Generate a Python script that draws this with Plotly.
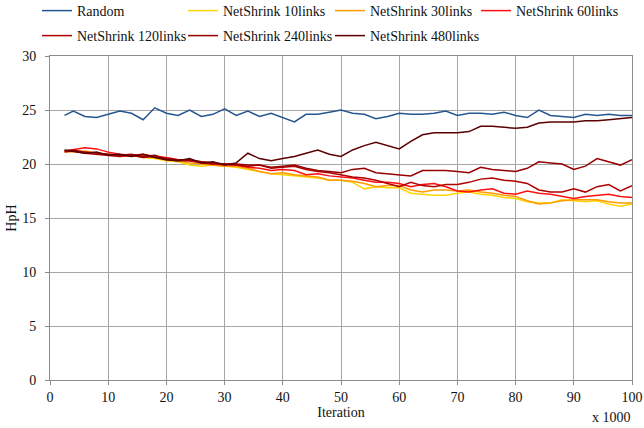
import plotly.graph_objects as go

# Iteration (x 1000)
iteration_k = [2.5] + list(range(4, 101, 2))

random_hph = [24.5, 24.9, 24.4, 24.3, 24.6, 24.9, 24.7, 24.1, 25.2, 24.7,
              24.5, 25.0, 24.4, 24.6, 25.1, 24.5, 24.9, 24.4, 24.7, 24.3,
              23.9, 24.6, 24.6, 24.8, 25.0, 24.7, 24.6, 24.2, 24.4, 24.7,
              24.6, 24.6, 24.7, 24.9, 24.5, 24.7, 24.7, 24.6, 24.8, 24.5,
              24.3, 25.0, 24.5, 24.4, 24.3, 24.6, 24.5, 24.6, 24.5, 24.5]

ns10_hph = [21.1, 21.2, 21.1, 21.0, 20.9, 20.7, 20.8, 20.6, 20.5, 20.3,
            20.2, 19.9, 19.8, 19.9, 19.8, 19.7, 19.5, 19.3, 19.1, 19.0,
            18.9, 18.8, 18.7, 18.5, 18.5, 18.3, 17.7, 17.9, 17.8, 17.8,
            17.3, 17.2, 17.1, 17.1, 17.3, 17.4, 17.2, 17.1, 16.9, 16.8,
            16.5, 16.4, 16.4, 16.7, 16.6, 16.5, 16.6, 16.3, 16.1, 16.3]

ns30_hph = [21.2, 21.1, 21.2, 21.0, 20.9, 20.8, 20.7, 20.8, 20.6, 20.4,
            20.3, 20.1, 20.0, 19.9, 19.8, 19.8, 19.6, 19.3, 19.1, 19.2,
            19.0, 18.9, 18.8, 18.5, 18.5, 18.4, 18.2, 17.9, 18.0, 18.0,
            17.6, 17.4, 17.6, 17.6, 17.5, 17.6, 17.4, 17.3, 17.1, 17.0,
            16.6, 16.3, 16.4, 16.6, 16.7, 16.7, 16.7, 16.5, 16.4, 16.4]

ns60_hph = [21.2, 21.3, 21.5, 21.4, 21.1, 20.9, 20.8, 20.9, 20.7, 20.6,
            20.4, 20.3, 20.2, 20.0, 19.9, 19.9, 19.7, 19.6, 19.4, 19.5,
            19.4, 19.0, 19.1, 18.9, 18.8, 18.7, 18.5, 18.3, 18.3, 18.2,
            17.9, 18.1, 18.2, 17.9, 17.5, 17.4, 17.6, 17.7, 17.3, 17.2,
            17.5, 17.3, 17.2, 17.0, 16.8, 17.0, 17.1, 17.2, 17.0, 16.9]

ns120_hph = [21.1, 21.2, 21.0, 20.9, 20.8, 20.7, 20.8, 20.6, 20.7, 20.4,
             20.3, 20.3, 20.1, 20.0, 20.0, 19.9, 19.8, 19.9, 19.6, 19.7,
             19.8, 19.5, 19.3, 19.2, 19.0, 18.8, 18.7, 18.5, 18.2, 17.9,
             18.3, 18.0, 17.9, 18.1, 18.1, 18.3, 18.6, 18.7, 18.5, 18.4,
             18.2, 17.6, 17.4, 17.4, 17.7, 17.4, 17.9, 18.1, 17.5, 18.0]

ns240_hph = [21.2, 21.3, 21.1, 21.0, 20.9, 20.8, 20.9, 20.7, 20.8, 20.5,
             20.4, 20.4, 20.2, 20.1, 20.0, 20.0, 19.9, 19.9, 19.7, 19.8,
             19.9, 19.6, 19.4, 19.3, 19.2, 19.5, 19.6, 19.2, 19.1, 19.0,
             18.9, 19.4, 19.4, 19.4, 19.3, 19.2, 19.7, 19.5, 19.4, 19.3,
             19.6, 20.2, 20.1, 20.0, 19.5, 19.8, 20.5, 20.2, 19.9, 20.4]

ns480_hph = [21.3, 21.2, 21.0, 21.1, 20.8, 20.9, 20.7, 20.9, 20.6, 20.4,
             20.3, 20.5, 20.1, 20.2, 19.9, 20.1, 21.0, 20.5, 20.3, 20.5,
             20.7, 21.0, 21.3, 20.9, 20.7, 21.3, 21.7, 22.0, 21.7, 21.4,
             22.1, 22.7, 22.9, 22.9, 22.9, 23.0, 23.5, 23.5, 23.4, 23.3,
             23.4, 23.8, 23.9, 23.9, 23.9, 24.0, 24.0, 24.1, 24.2, 24.3]

series_names = ["Random", "NetShrink 10links", "NetShrink 30links", "NetShrink 60links",
                "NetShrink 120links", "NetShrink 240links", "NetShrink 480links"]
series_values = [random_hph, ns10_hph, ns30_hph, ns60_hph, ns120_hph, ns240_hph, ns480_hph]
series_colors = ["#26568F", "#FFD500", "#FF9A00", "#FF1010", "#B00000", "#960000", "#5A0000"]

FONT = "Liberation Serif"

# legend slot per series: (column, row)
legend_cols_px = [37, 183, 330, 476]   # left edge of each legend entry (px)
legend_rows_px = [11, 36]              # vertical centre of each legend row (px)
slots = [(0, 0), (1, 0), (2, 0), (3, 0), (0, 1), (1, 1), (2, 1)]

fig = go.Figure()
legend_layouts = {}
for i, (name, vals, color, (c, r)) in enumerate(zip(series_names, series_values, series_colors, slots)):
    key = "legend" if i == 0 else f"legend{i + 1}"
    fig.add_trace(go.Scatter(x=iteration_k, y=vals, mode="lines", name=name, showlegend=True,
                             line=dict(color=color, width=1.5), legend=key))
    legend_layouts[key] = dict(
        orientation="h", xanchor="left", yanchor="middle",
        xref="container", yref="container",
        x=legend_cols_px[c] / 644, y=1 - legend_rows_px[r] / 428,
        itemwidth=30, bgcolor="rgba(0,0,0,0)",
        font=dict(family=FONT, size=14, color="#111"))

fig.update_layout(
    width=644, height=428,
    showlegend=True,
    margin=dict(l=50, r=12, t=56, b=48, autoexpand=False),
    plot_bgcolor="white", paper_bgcolor="white",
    font=dict(family=FONT, size=14, color="#111"),
    xaxis=dict(range=[0, 100], tick0=0, dtick=10, showgrid=True, gridcolor="#A6A6A6", gridwidth=1,
               showline=True, linecolor="#8C8C8C", linewidth=1, mirror=True,
               ticks="outside", ticklen=4, tickcolor="#8C8C8C", zeroline=False, automargin=False,
               title=dict(text="Iteration", standoff=0, font=dict(family=FONT, size=14))),
    yaxis=dict(range=[0, 30], tick0=0, dtick=5, showgrid=True, gridcolor="#A6A6A6", gridwidth=1,
               showline=True, linecolor="#8C8C8C", linewidth=1, mirror=True,
               ticks="outside", ticklen=4, tickcolor="#8C8C8C", zeroline=False, automargin=False,
               ticklabelstandoff=6,
               title=dict(text="HpH", standoff=2, font=dict(family=FONT, size=14))),
    annotations=[dict(text="x 1000", xref="paper", yref="paper", x=0.964, y=-0.117,
                      xanchor="center", yanchor="middle", showarrow=False,
                      font=dict(family=FONT, size=14, color="#111"))],
    **legend_layouts,
)

fig.write_html("out.html", config={"displayModeBar": False},
               post_script="document.body.style.margin='0';document.body.style.padding='0';")
